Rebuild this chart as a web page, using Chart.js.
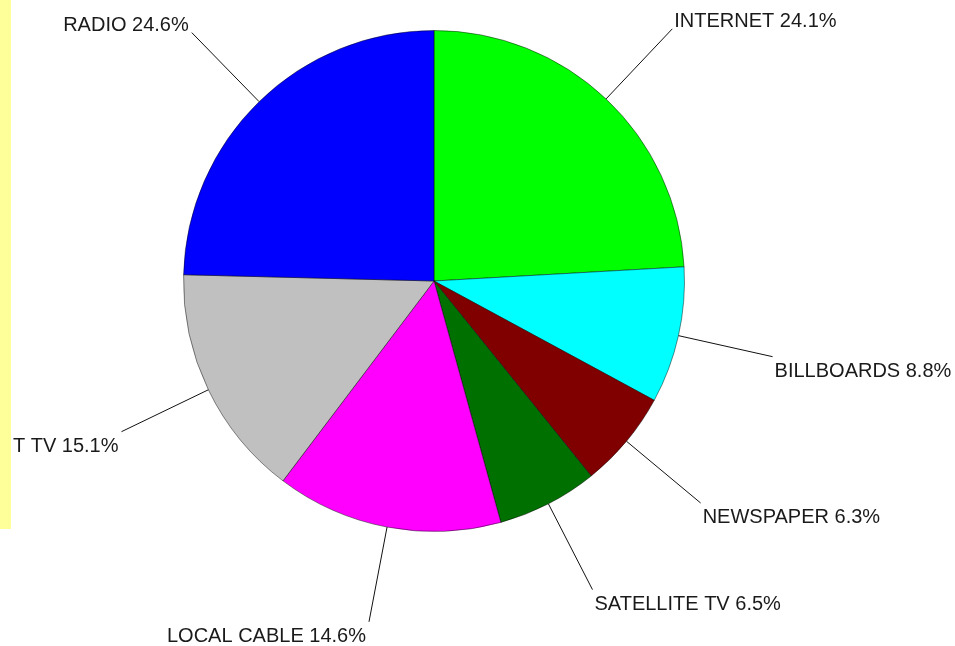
<!DOCTYPE html>
<html>
<head>
<meta charset="utf-8">
<script src="https://cdn.jsdelivr.net/npm/chart.js@4/dist/chart.umd.min.js"></script>
<style>
  html, body { margin: 0; padding: 0; background: #fff; }
  #wrap { width: 955px; height: 646px; position: relative; }
</style>
</head>
<body>
<div id="wrap"><canvas id="chart" width="955" height="646"></canvas></div>
<script>
// media share, clockwise from 12 o'clock
const categories = ["INTERNET", "BILLBOARDS", "NEWSPAPER", "SATELLITE TV", "LOCAL CABLE", "T TV", "RADIO"];
const shares = [24.1, 8.8, 6.3, 6.5, 14.6, 15.1, 24.6];
const sliceColors = ["#00ff00", "#00ffff", "#800000", "#007000", "#ff00ff", "#c0c0c0", "#0000ff"];

// leader lines + labels drawn off the arc geometry
const leaderLabels = {
  id: "leaderLabels",
  afterDatasetsDraw(chart) {
    const ctx = chart.ctx;
    const arcs = chart.getDatasetMeta(0).data;
    ctx.save();
    ctx.font = "20px 'Liberation Sans', Arial, sans-serif";
    ctx.fillStyle = "#1a1a1a";
    ctx.strokeStyle = "#111";
    ctx.lineWidth = 1;
    arcs.forEach((arc, i) => {
      const mid = (arc.startAngle + arc.endAngle) / 2;
      const r0 = arc.outerRadius;
      const r1 = arc.outerRadius * 1.385;
      const x0 = arc.x + Math.cos(mid) * r0, y0 = arc.y + Math.sin(mid) * r0;
      const x1 = arc.x + Math.cos(mid) * r1, y1 = arc.y + Math.sin(mid) * r1;
      ctx.beginPath();
      ctx.moveTo(x0, y0);
      ctx.lineTo(x1, y1);
      ctx.stroke();
      const right = Math.cos(mid) >= 0;
      const upper = Math.sin(mid) < 0;
      ctx.textAlign = right ? "left" : "right";
      ctx.textBaseline = "alphabetic";
      const tx = right ? x1 + 2 : x1 - 3;
      const ty = upper ? y1 - 2 : y1 + 20;
      ctx.fillText(categories[i] + " " + shares[i].toFixed(1) + "%", tx, ty);
    });
    // yellow strip on the left edge
    ctx.fillStyle = "#ffff99";
    ctx.fillRect(0, 0, 11, 529);
    ctx.restore();
  }
};

new Chart(document.getElementById("chart").getContext("2d"), {
  type: "pie",
  data: {
    labels: categories,
    datasets: [{
      data: shares,
      backgroundColor: sliceColors,
      borderColor: "rgba(0,0,0,0.45)",
      borderWidth: 1,
      hoverOffset: 0
    }]
  },
  options: {
    responsive: false,
    animation: false,
    layout: { padding: { left: 183, right: 270, top: 30, bottom: 114 } },
    plugins: {
      legend: { display: false },
      tooltip: { enabled: false }
    }
  },
  plugins: [leaderLabels]
});
</script>
</body>
</html>
